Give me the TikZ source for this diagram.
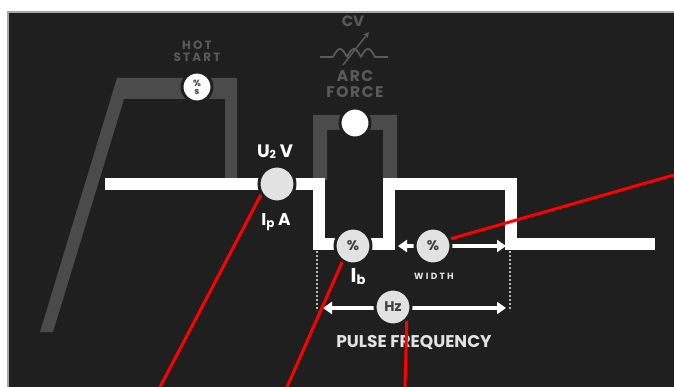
\documentclass[tikz,border=0pt]{standalone}
\usepackage{fontspec}
\setmainfont{Poppins}
\usepackage{xcolor}
\usepackage{tikz}
\usetikzlibrary{arrows.meta,positioning}
\definecolor{panel}{HTML}{1F1F1F}
\definecolor{band}{HTML}{4B4B4B}
\definecolor{knobgray}{HTML}{E2E2E2}
\definecolor{labelgray}{HTML}{5A5A5A}
\definecolor{leader}{HTML}{FF0000}

\begin{document}
\begin{tikzpicture}[x=1pt, y=-1pt,
  knob/.style={circle, fill=knobgray, draw=panel, line width=3pt, minimum size=36pt, inner sep=0pt, text=panel!85!white, font=\bfseries\fontsize{14}{14}\selectfont},
  smallknob/.style={knob, fill=white, minimum size=30pt},
  dimlabel/.style={text=labelgray, align=center, inner sep=0pt},
  whitelabel/.style={text=white, inner sep=0pt, font=\bfseries\fontsize{17}{17}\selectfont},
  pulse/.style={white, line width=12pt},
  span/.style={white, line width=3.5pt, {Triangle[length=9pt,width=12pt]}-{Triangle[length=9pt,width=12pt]}},
  leaderline/.style={leader, line width=3pt},
  >=Latex]

\useasboundingbox (0,0) rectangle (674,387);
\fill[white] (0,0) rectangle (674,387);
\fill[panel] (8,12) rectangle (674,387);
\draw[gray!70, line width=1.5pt] (8,387) -- (8,12) -- (674,12);

% hot start and arc force bands
\fill[band] (40,332) -- (117,78) -- (237,78) -- (237,180) -- (225,180) -- (225,99) -- (124,99) -- (53,332) -- cycle;
\fill[band] (313,180) -- (313,115) -- (397,115) -- (397,180) -- (383,180) -- (383,130) -- (327,130) -- (327,180) -- cycle;

% pulse shape
\draw[pulse] (105,184) -- (319,184) -- (319,244) -- (389,244) -- (389,184) -- (511,184) -- (511,244) -- (655,244);
\draw[knobgray!80!black, dotted, line width=2pt] (317,251) -- (317,311);
\draw[knobgray!80!black, dotted, line width=2pt] (510,251) -- (510,311);

% CV symbol
\node[dimlabel, font=\bfseries\fontsize{15}{15}\selectfont] (cv) at (353,21) {CV};
\draw[labelgray, line width=1.8pt] (320,57) -- (333,57)
  plot[domain=0:3, samples=60] ({333+14*\x}, {57-8*abs(sin(180*\x))}) -- (388,57);
\draw[labelgray, line width=1.5pt, -{Stealth[length=6pt,width=6pt]}] (343,65) -- (369,32);

\node[dimlabel, font=\bfseries\fontsize{12}{12}\selectfont\addfontfeatures{LetterSpace=18}] (hotlab) at (197,51) {HOT\\START};
\node[dimlabel, font=\bfseries\fontsize{15.5}{15.5}\selectfont\addfontfeatures{LetterSpace=10}] (arclab) at (355,84) {ARC\\FORCE};

% spans
\coordinate (wl) at (398,246);
\coordinate (wr) at (506,246);
\coordinate (fl) at (323,308);
\coordinate (fr) at (506,308);
\draw[span] (wl) -- (wr);
\draw[span] (fl) -- (fr);

% knobs
\node[smallknob] (hot) at (197,87) {\fontsize{9}{9}\selectfont\shortstack{\%\\s}};
\node[smallknob] (arc) at (355,123) {};
\node[knob] (volt) at (277,184) {};
\node[knob] (base) at (353,246) {\%};
\node[knob] (width) at (433,246) {\%};
\node[knob] (freq) at (393,307) {Hz};

\node[whitelabel, font=\bfseries\fontsize{18}{18}\selectfont] (uv) at (275,152) {U\raisebox{-1pt}{\fontsize{11}{11}\selectfont 2} V};
\node[whitelabel] (ipa) at (276,222) {I\raisebox{-2pt}{\fontsize{12}{12}\selectfont p} A};
\node[whitelabel, font=\bfseries\fontsize{20}{20}\selectfont] (ib) at (358,277) {I\raisebox{-2pt}{\fontsize{13}{13}\selectfont b}};
\node[text=knobgray, font=\bfseries\fontsize{9}{9}\selectfont\addfontfeatures{LetterSpace=25}] (wlab) at (434,276) {WIDTH};
\node[text=knobgray, font=\bfseries\fontsize{17}{17}\selectfont] (plab) at (414,342) {PULSE FREQUENCY};

% leader lines
\coordinate (e1) at (160,387);
\coordinate (e2) at (287,387);
\coordinate (e3) at (405,387);
\coordinate (e4) at (674,175);
\draw[leaderline] (volt.214) -- (e1);
\draw[leaderline] (base.236) -- (e2);
\draw[leaderline] (freq.-45) -- (e3);
\draw[leaderline] (width.22) -- (e4);
\end{tikzpicture}
\end{document}
